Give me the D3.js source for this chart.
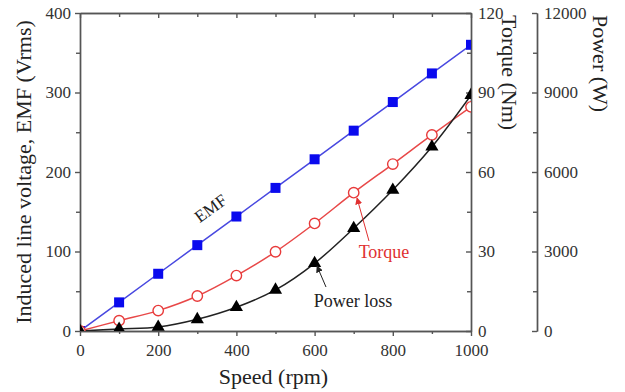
<!DOCTYPE html>
<html>
<head>
<meta charset="utf-8">
<script src="https://cdn.jsdelivr.net/npm/d3@7"></script>
<style>
  body { margin: 0; background: #fff; }
  svg text { font-family: "Liberation Serif", "Times New Roman", serif; }
  .axis path, .axis line { stroke: #555; stroke-width: 1.4; }
  .axis text { fill: #333; font-size: 17px; }
</style>
</head>
<body>
<svg id="chart" width="625" height="392"></svg>
<script>
const speed = [0, 100, 200, 300, 400, 500, 600, 700, 800, 900, 1000]
const emf = [0, 36, 72, 108, 144, 180, 216, 252, 288, 324, 360]
const torque = [0, 3.9, 7.7, 13.2, 20.9, 29.9, 40.6, 52.2, 63, 74, 84.6]
const powerLoss = [0, 75, 150, 440, 895, 1550, 2555, 3875, 5320, 6950, 8900]

const xTicks = [0, 200, 400, 600, 800, 1000]
const emfTicks = [0, 100, 200, 300, 400]
const torqueTicks = [0, 30, 60, 90, 120]
const powerTicks = [0, 3000, 6000, 9000, 12000]

const LEFT = 80
const RIGHT = 471
const TOP = 13
const BOTTOM = 331
const POWER_X = 537

const svg = d3.select('#chart')
const fmt = d3.format('d')

const x = d3.scaleLinear().domain([0, 1000]).range([LEFT, RIGHT])
const yEmf = d3.scaleLinear().domain([0, 400]).range([BOTTOM, TOP])
const yTorque = d3.scaleLinear().domain([0, 120]).range([BOTTOM, TOP])
const yPower = d3.scaleLinear().domain([0, 12000]).range([BOTTOM, TOP])

const defs = svg.append('defs')
defs.append('clipPath')
  .attr('id', 'plot-clip')
  .append('rect')
  .attr('x', LEFT).attr('y', TOP)
  .attr('width', RIGHT - LEFT).attr('height', BOTTOM - TOP)

function arrowHead (id, color) {
  defs.append('marker')
    .attr('id', id)
    .attr('viewBox', '0 0 10 10')
    .attr('refX', 9).attr('refY', 5)
    .attr('markerWidth', 7).attr('markerHeight', 7)
    .attr('markerUnits', 'userSpaceOnUse')
    .attr('orient', 'auto')
    .append('path')
    .attr('d', 'M0,0 L10,5 L0,10 Z')
    .attr('fill', color)
}
arrowHead('arrow-red', '#e03030')
arrowHead('arrow-black', '#222')

// minor ticks (no labels)
const minor = (axis) => axis.tickFormat('').tickSizeOuter(0)

svg.append('g').attr('class', 'axis')
  .attr('transform', `translate(0,${BOTTOM})`)
  .call(minor(d3.axisBottom(x).tickValues(d3.range(100, 1000, 200)).tickSize(3)))
svg.append('g').attr('class', 'axis')
  .attr('transform', `translate(0,${TOP})`)
  .call(minor(d3.axisTop(x).tickValues(d3.range(100, 1000, 200)).tickSizeInner(-4)))
svg.append('g').attr('class', 'axis')
  .attr('transform', `translate(0,${TOP})`)
  .call(minor(d3.axisTop(x).tickValues(xTicks).tickSizeInner(-5)))
svg.append('g').attr('class', 'axis')
  .attr('transform', `translate(${LEFT},0)`)
  .call(minor(d3.axisLeft(yEmf).tickValues(d3.range(50, 400, 100)).tickSize(4)))
svg.append('g').attr('class', 'axis')
  .attr('transform', `translate(${RIGHT},0)`)
  .call(minor(d3.axisRight(yTorque).tickValues(d3.range(15, 120, 30)).tickSizeInner(-4)))
svg.append('g').attr('class', 'axis')
  .attr('transform', `translate(${POWER_X},0)`)
  .call(minor(d3.axisRight(yPower).tickValues(d3.range(1500, 12000, 3000)).tickSizeInner(-4)))

// major axes
svg.append('g').attr('class', 'axis')
  .attr('transform', `translate(0,${BOTTOM})`)
  .call(d3.axisBottom(x).tickValues(xTicks).tickFormat(fmt).tickSize(5).tickSizeOuter(0).tickPadding(8))
svg.append('g').attr('class', 'axis')
  .attr('transform', `translate(${LEFT},0)`)
  .call(d3.axisLeft(yEmf).tickValues(emfTicks).tickFormat(fmt).tickSize(5).tickSizeOuter(0).tickPadding(4))
svg.append('g').attr('class', 'axis')
  .attr('transform', `translate(${RIGHT},0)`)
  .call(d3.axisRight(yTorque).tickValues(torqueTicks).tickFormat(fmt).tickSizeInner(-5).tickSizeOuter(0).tickPadding(7))
svg.append('g').attr('class', 'axis')
  .attr('transform', `translate(${POWER_X},0)`)
  .call(d3.axisRight(yPower).tickValues(powerTicks).tickFormat(fmt).tickSizeInner(-5).tickSizeOuter(0).tickPadding(7))

svg.selectAll('.axis text').attr('fill', '#333')

// axis titles
svg.append('text')
  .attr('transform', `translate(${(LEFT + RIGHT) / 2 - 2},384)`)
  .attr('text-anchor', 'middle')
  .attr('font-size', 22).attr('fill', '#222')
  .text('Speed (rpm)')
svg.append('text')
  .attr('transform', `translate(31,${(TOP + BOTTOM) / 2}) rotate(-90)`)
  .attr('text-anchor', 'middle')
  .attr('font-size', 22).attr('fill', '#222')
  .text('Induced line voltage, EMF (Vrms)')
svg.append('text')
  .attr('transform', `translate(502,${TOP + 2}) rotate(90)`)
  .attr('text-anchor', 'start')
  .attr('font-size', 22).attr('fill', '#222')
  .text('Torque (Nm)')
svg.append('text')
  .attr('transform', `translate(593,${TOP + 2}) rotate(90)`)
  .attr('text-anchor', 'start')
  .attr('font-size', 22).attr('fill', '#222')
  .text('Power (W)')

// series
const plot = svg.append('g').attr('clip-path', 'url(#plot-clip)')

const series = [
  { values: emf, y: yEmf, line: '#4848e0', curve: d3.curveLinear },
  { values: torque, y: yTorque, line: '#e84848', curve: d3.curveCatmullRom },
  { values: powerLoss, y: yPower, line: '#222', curve: d3.curveCatmullRom }
]

series.forEach(s => {
  const pts = speed.map((v, i) => [v, s.values[i]])
  plot.append('path')
    .datum(pts)
    .attr('fill', 'none')
    .attr('stroke', s.line)
    .attr('stroke-width', 1.5)
    .attr('d', d3.line().x(d => x(d[0])).y(d => s.y(d[1])).curve(s.curve))
})

const emfPts = speed.map((v, i) => [v, emf[i]])
plot.selectAll('.sq')
  .data(emfPts)
  .join('rect')
  .attr('class', 'sq')
  .attr('x', d => x(d[0]) - 5)
  .attr('y', d => yEmf(d[1]) - 5)
  .attr('width', 10).attr('height', 10)
  .attr('fill', '#0a0aee')

const torquePts = speed.map((v, i) => [v, torque[i]])
plot.selectAll('.circ')
  .data(torquePts)
  .join('circle')
  .attr('class', 'circ')
  .attr('cx', d => x(d[0]))
  .attr('cy', d => yTorque(d[1]))
  .attr('r', 5.2)
  .attr('fill', '#fff')
  .attr('stroke', '#e83a3a')
  .attr('stroke-width', 1.4)

const powerPts = speed.map((v, i) => [v, powerLoss[i]])
plot.selectAll('.tri')
  .data(powerPts)
  .join('path')
  .attr('class', 'tri')
  .attr('transform', d => `translate(${x(d[0])},${yPower(d[1])})`)
  .attr('d', d3.symbol(d3.symbolTriangle, 75))
  .attr('fill', '#000')

// annotations
svg.append('text')
  .attr('transform', 'translate(214,213) rotate(-36)')
  .attr('text-anchor', 'middle')
  .attr('font-size', 17).attr('fill', '#222')
  .text('EMF')

svg.append('text')
  .attr('x', 384).attr('y', 258)
  .attr('text-anchor', 'middle')
  .attr('font-size', 18).attr('fill', '#e03030')
  .text('Torque')
svg.append('line')
  .attr('x1', 369).attr('y1', 241)
  .attr('x2', 357).attr('y2', 198)
  .attr('stroke', '#e03030').attr('stroke-width', 1)
  .attr('marker-end', 'url(#arrow-red)')

svg.append('text')
  .attr('x', 353).attr('y', 307)
  .attr('text-anchor', 'middle')
  .attr('font-size', 18).attr('fill', '#222')
  .text('Power loss')
svg.append('line')
  .attr('x1', 326).attr('y1', 287)
  .attr('x2', 317).attr('y2', 266)
  .attr('stroke', '#222').attr('stroke-width', 1)
  .attr('marker-end', 'url(#arrow-black)')
</script>
</body>
</html>
